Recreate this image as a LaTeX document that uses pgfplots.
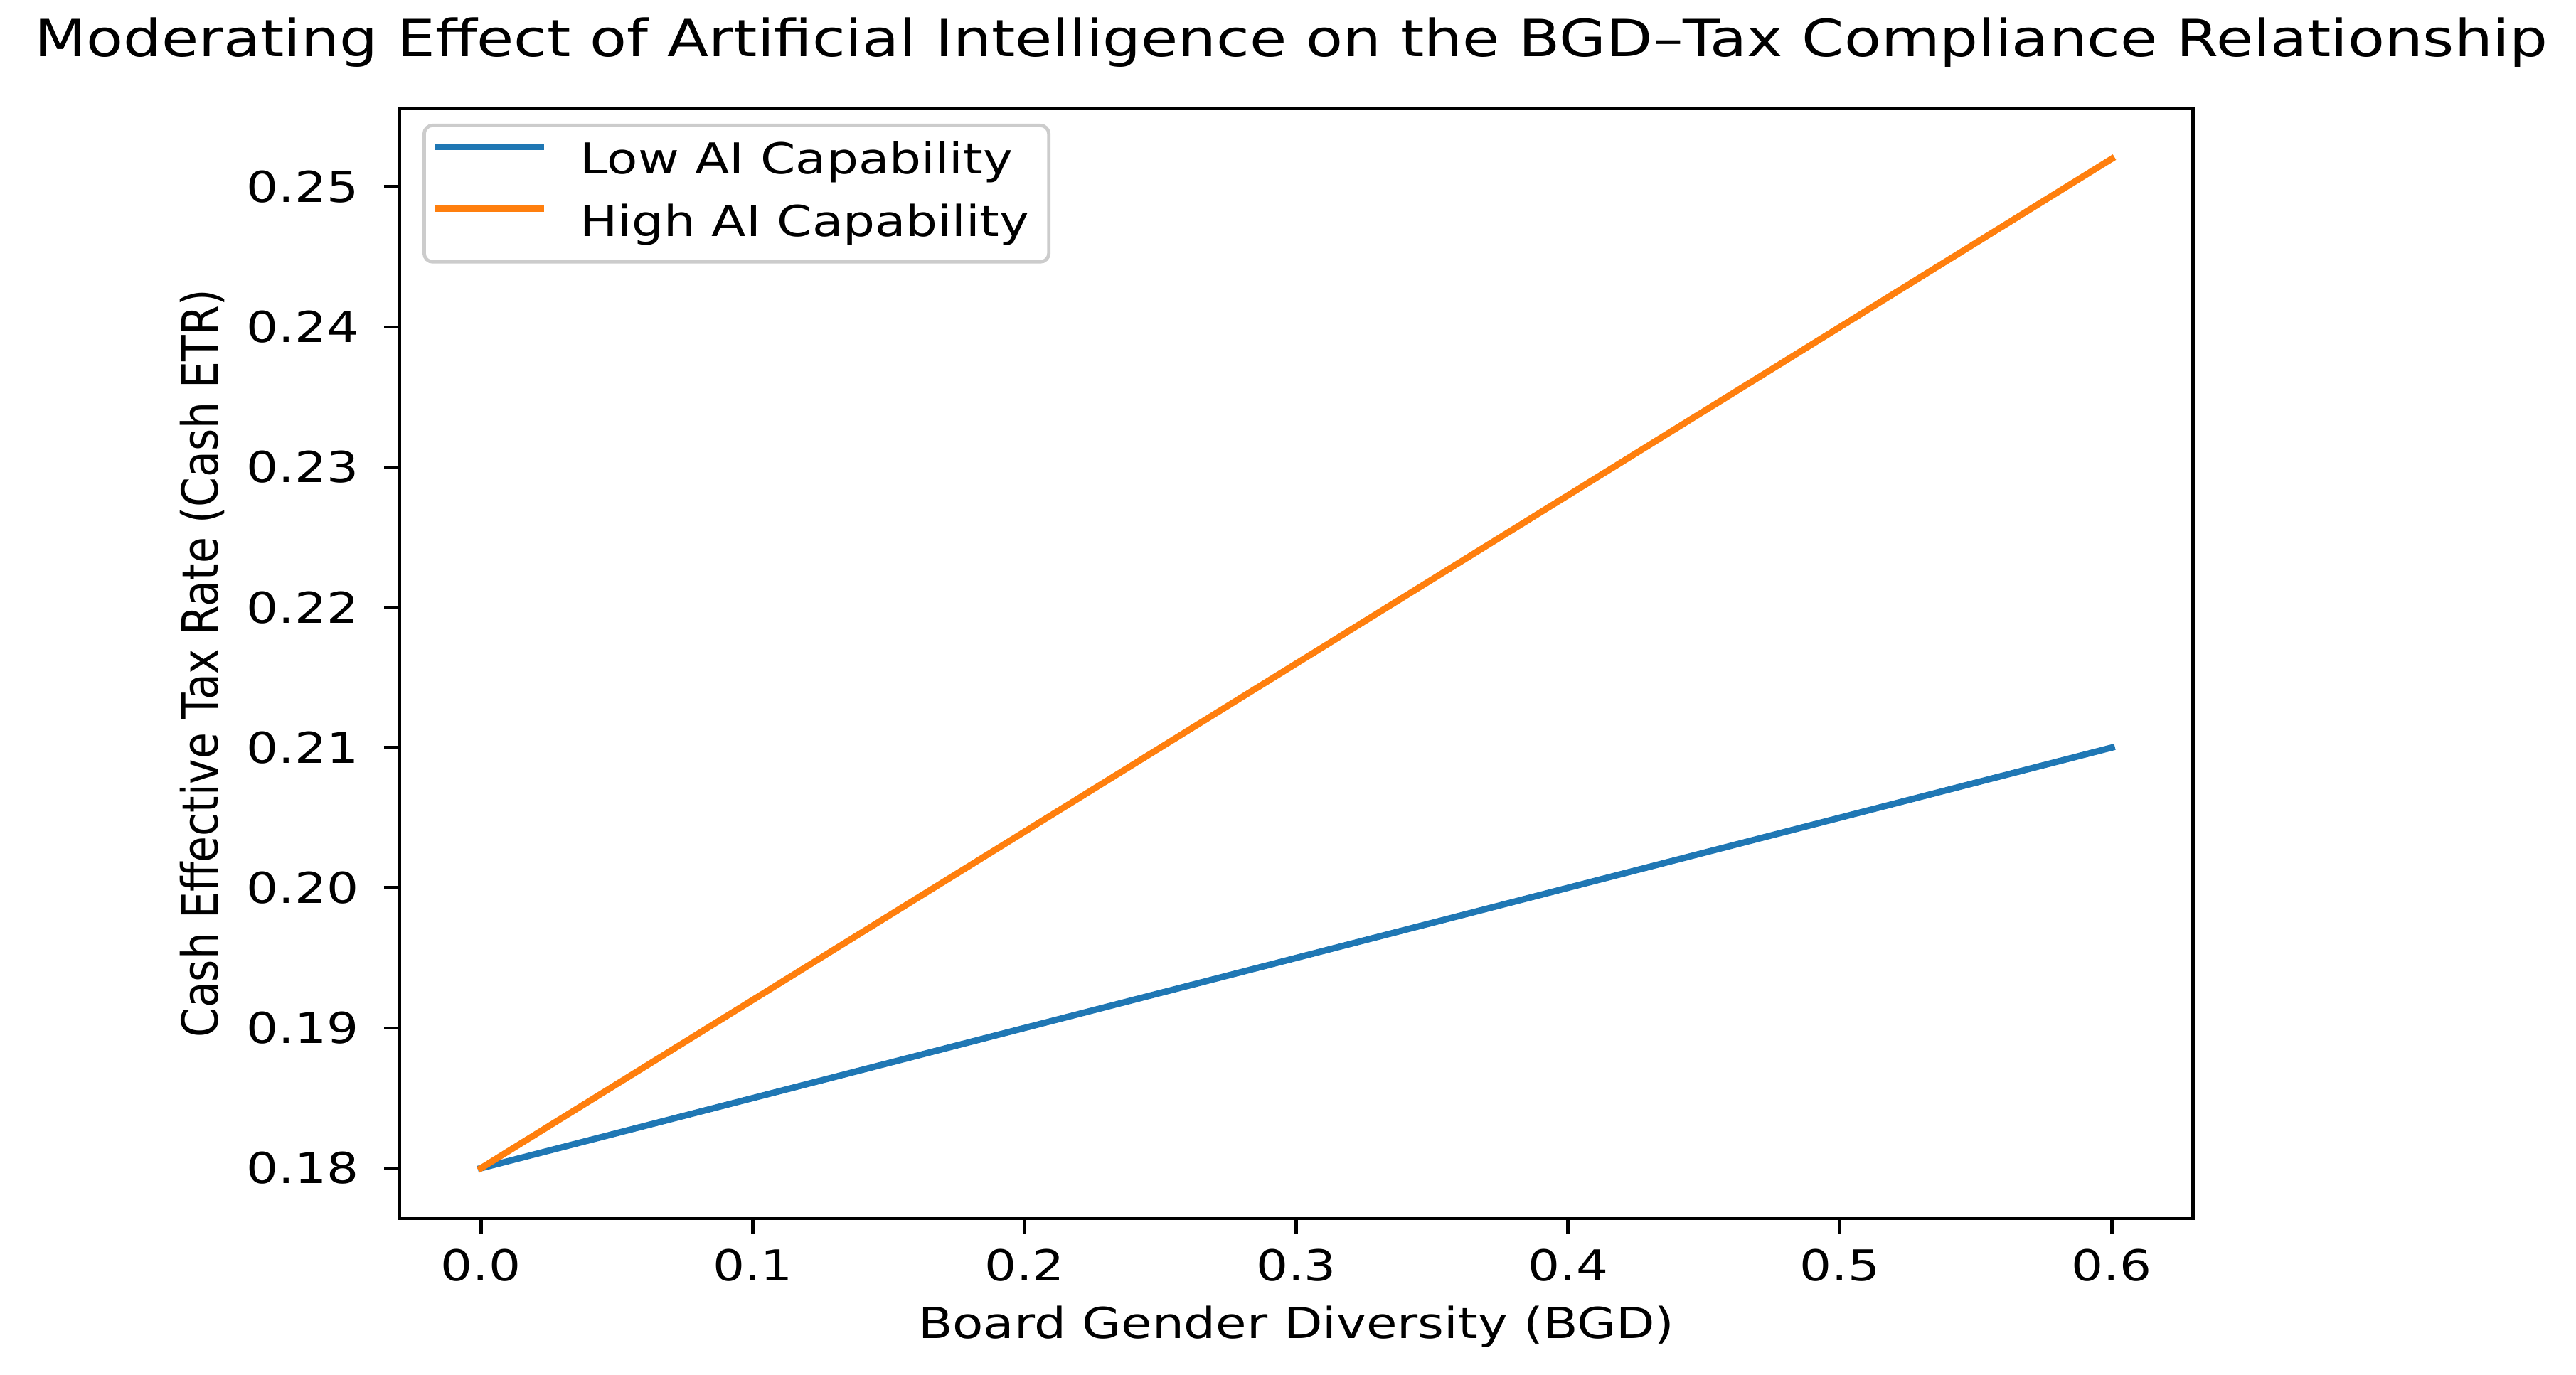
\documentclass[border=0pt]{standalone}
\usepackage{fontspec}
\setmainfont{DejaVu Sans}[FakeStretch=1.18]
\newfontfamily\ylabfont{DejaVu Sans}[FakeStretch=0.855]
\usepackage{pgfplots}
\pgfplotsset{compat=1.18}
\definecolor{tabblue}{HTML}{1F77B4}
\definecolor{taborange}{HTML}{FF7F0E}
\begin{document}
\begin{tikzpicture}
\begin{axis}[
  scale only axis, width=420.4pt, height=260.3pt,
  xmin=-0.03, xmax=0.63, ymin=0.1764, ymax=0.2556,
  xtick={0,0.1,0.2,0.3,0.4,0.5,0.6},
  ytick={0.18,0.19,0.20,0.21,0.22,0.23,0.24,0.25},
  scaled ticks=false,
  /pgf/number format/assume math mode=true,
  xticklabel style={/pgf/number format/fixed, /pgf/number format/fixed zerofill, /pgf/number format/precision=1, font=\fontsize{10}{12}\selectfont},
  yticklabel style={/pgf/number format/fixed, /pgf/number format/fixed zerofill, /pgf/number format/precision=2, font=\fontsize{10}{12}\selectfont, xshift=-2.4pt},
  tick align=outside, xtick pos=bottom, ytick pos=left,
  major tick length=3.6pt,
  every tick/.style={black, line width=0.8pt},
  axis line style={line width=0.8pt},
  title={Moderating Effect of Artificial Intelligence on the BGD–Tax Compliance Relationship},
  title style={at={(axis description cs:0.497,1.0238)}, anchor=base, font=\fontsize{12}{14.4}\selectfont, inner sep=0pt},
  xlabel={Board Gender Diversity (BGD)},
  xlabel style={at={(axis description cs:0.5,-0.108)}, anchor=base, font=\fontsize{10}{12}\selectfont, inner sep=0pt},
  ylabel={Cash Effective Tax Rate (Cash ETR)},
  ylabel style={at={(axis description cs:-0.11,0.5)}, anchor=center, rotate=0, font=\fontsize{11.7}{14}\ylabfont, inner sep=0pt},
  legend cell align=left,
  legend image code/.code={\draw[#1] (1.3pt,3.7pt) -- (25.35pt,3.7pt);},
  legend style={at={(axis description cs:0,1)}, anchor=north west, xshift=5.4pt, yshift=-3.6pt,
    draw=black!20, line width=0.8pt, rounded corners=2pt, inner xsep=2.55pt, inner ysep=1.85pt,
    row sep=0.9pt, column sep=6.45pt, font=\fontsize{10}{12}\selectfont,
    nodes={inner sep=2pt, text height=7.5pt, text depth=2.2pt}},
]
\addplot[tabblue, line width=1.5pt, line cap=rect] coordinates {(0,0.18) (0.6,0.21)};
\addlegendentry{Low AI Capability}
\addplot[taborange, line width=1.5pt, line cap=rect] coordinates {(0,0.18) (0.6,0.252)};
\addlegendentry{High AI Capability}
\end{axis}
\path (current axis.south west) ++(-93.6pt,-36.5pt);
\path (current axis.north east) ++(89.7pt,25.4pt);
\end{tikzpicture}
\end{document}
